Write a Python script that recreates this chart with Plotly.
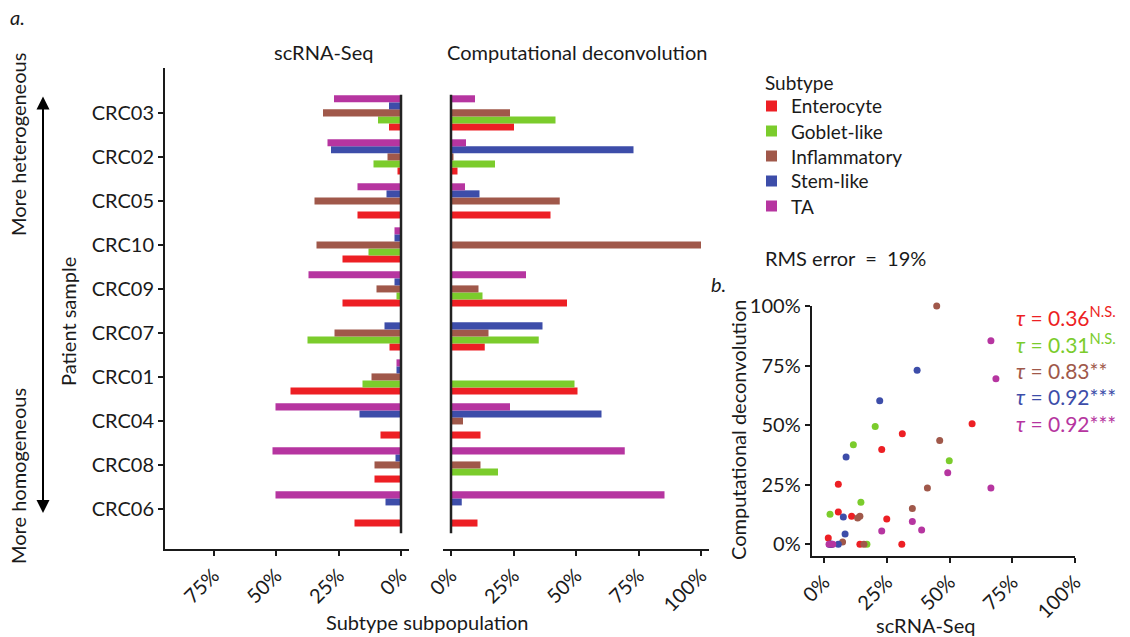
import plotly.graph_objects as go

W, H = 1130, 637

samples = ["CRC03", "CRC02", "CRC05", "CRC10", "CRC09",
           "CRC07", "CRC01", "CRC04", "CRC08", "CRC06"]
subtypes = ["Enterocyte", "Goblet-like", "Inflammatory", "Stem-like", "TA"]
colors = ["#ED1F24", "#7BCC2C", "#A0584A", "#3D4DA9", "#B635A0"]

# scRNA-Seq subpopulation (%), per sample
scrna_enterocyte = [4.8, 1.4, 17.4, 23.4, 23.4, 4.6, 44.2, 8.2, 10.6, 18.6]
scrna_goblet = [9.2, 11.0, 0, 13.0, 1.8, 37.4, 15.4, 0, 0, 0]
scrna_inflammatory = [31.2, 5.4, 34.6, 33.8, 9.8, 26.6, 11.8, 0, 10.6, 0]
scrna_stem = [4.8, 28.0, 5.8, 2.6, 2.6, 6.6, 1.8, 16.6, 2.2, 6.2]
scrna_ta = [26.8, 29.4, 17.4, 2.6, 37.0, 0, 1.8, 50.2, 51.4, 50.2]

# Computational deconvolution estimate (%), per sample
deconv_enterocyte = [25.2, 2.6, 39.8, 0, 46.4, 13.5, 50.6, 11.8, 0, 10.6]
deconv_goblet = [41.8, 17.6, 0, 0, 12.6, 35.1, 49.4, 0, 18.8, 0]
deconv_inflammatory = [23.6, 1.0, 43.5, 100, 11.0, 15.0, 0, 4.8, 11.8, 0]
deconv_stem = [0, 73.0, 11.4, 0, 0, 36.6, 0, 60.2, 0, 4.3]
deconv_ta = [9.6, 6.0, 5.6, 0, 30.0, 0, 0, 23.6, 69.5, 85.4]

# scRNA-Seq fractions as plotted in the correlation panel
corr_x_enterocyte = [5.7, 1.7, 23.0, 31.0, 31.2, 5.7, 59.0, 11.0, 14.3, 25.0]
corr_x_goblet = [11.7, 14.7, 0, 17.1, 2.4, 49.9, 20.4, 0, 0, 0]
corr_x_inflammatory = [41.2, 7.4, 46.1, 44.9, 13.4, 35.2, 15.9, 0, 14.3, 0]
corr_x_stem = [5.7, 37.1, 7.7, 3.0, 3.0, 8.8, 2.2, 22.2, 2.6, 8.4]
corr_x_ta = [35.2, 38.9, 23.0, 3.5, 49.3, 0, 2.0, 66.5, 68.5, 66.5]

tau_labels = ["0.36<sup>N.S.</sup>", "0.31<sup>N.S.</sup>", "0.83**", "0.92***", "0.92***"]
pct_ticks = [0, 25, 50, 75, 100]
pct_text = ["0%", "25%", "50%", "75%", "100%"]

scrna = [scrna_enterocyte, scrna_goblet, scrna_inflammatory, scrna_stem, scrna_ta]
deconv = [deconv_enterocyte, deconv_goblet, deconv_inflammatory, deconv_stem, deconv_ta]
corr_x = [corr_x_enterocyte, corr_x_goblet, corr_x_inflammatory, corr_x_stem, corr_x_ta]

FONT = "Lato"
INK = "#1a1a1a"
FS = 20


def px(p):
    return p / W


def py(p):
    return 1 - p / H


ypos = [len(samples) - 1 - i for i in range(len(samples))]

fig = go.Figure()

for k, name in enumerate(subtypes):
    fig.add_trace(go.Bar(
        x=scrna[k], y=ypos, orientation="h", name=name,
        marker=dict(color=colors[k], line=dict(width=0)),
        xaxis="x", yaxis="y", showlegend=False,
    ))
for k, name in enumerate(subtypes):
    fig.add_trace(go.Bar(
        x=deconv[k], y=ypos, orientation="h", name=name,
        marker=dict(color=colors[k], line=dict(width=0)),
        xaxis="x2", yaxis="y2", showlegend=False,
    ))
for k, name in enumerate(subtypes):
    xs = [a for a in corr_x[k] if a > 0]
    ys = [b for a, b in zip(corr_x[k], deconv[k]) if a > 0]
    fig.add_trace(go.Scatter(
        x=xs, y=ys, mode="markers", name=name,
        marker=dict(color=colors[k], size=7, line=dict(width=0)),
        xaxis="x3", yaxis="y3", showlegend=False, cliponaxis=False,
    ))

tickfont = dict(family=FONT, size=FS, color=INK)
axis_common = dict(showgrid=False, zeroline=False, ticks="outside", ticklen=5,
                   tickwidth=1.5, tickcolor=INK, linecolor=INK, linewidth=2,
                   tickfont=tickfont, automargin=False)

bar_ydomain = [py(549), py(68)]
bar_yrange = [-0.91, 10.02]

fig.update_layout(
    width=W, height=H,
    margin=dict(l=0, r=0, t=0, b=0, autoexpand=False),
    paper_bgcolor="white", plot_bgcolor="white",
    barmode="group", bargap=0.2, bargroupgap=0,
    font=dict(family=FONT, size=FS, color=INK),
    showlegend=False,
    xaxis=dict(domain=[px(165), px(409)], range=[94.4, -3.2], anchor="y",
               tickvals=pct_ticks[:4], ticktext=pct_text[:4], tickangle=-45,
               showline=True, **axis_common),
    yaxis=dict(domain=bar_ydomain, range=bar_yrange, anchor="x",
               tickvals=ypos, ticktext=samples, showline=True, **axis_common),
    xaxis2=dict(domain=[px(443), px(709)], range=[-3.2, 103.2], anchor="y2",
                tickvals=pct_ticks, ticktext=pct_text, tickangle=-45,
                showline=True, **axis_common),
    yaxis2=dict(domain=bar_ydomain, range=bar_yrange, anchor="x2",
                showline=False, showticklabels=False, ticks="",
                showgrid=False, zeroline=False),
    xaxis3=dict(domain=[px(811.7), px(1075)], range=[-4.9, 100], anchor="y3",
                tickvals=pct_ticks, ticktext=pct_text, tickangle=-45,
                showline=True, **axis_common),
    yaxis3=dict(domain=[py(555.7), py(306)], range=[-4.8, 100], anchor="x3",
                tickvals=pct_ticks, ticktext=pct_text,
                showline=True, **axis_common),
)

# zero reference lines of the two bar panels
for xr, yr in (("x", "y"), ("x2", "y2")):
    fig.add_shape(type="line", xref=xr, yref=yr, x0=0, x1=0, y0=-0.55, y1=9.41,
                  line=dict(color="#222222", width=2.5), layer="above")


def note(text, x, y, size=FS, xanchor="center", yanchor="middle", angle=0, color=INK):
    fig.add_annotation(text=text, x=px(x), y=py(y), xref="paper", yref="paper",
                       showarrow=False, xanchor=xanchor, yanchor=yanchor,
                       textangle=angle, font=dict(family=FONT, size=size, color=color))


# subtype key: swatches and names
note("Subtype", 763, 83, size=19, xanchor="left")
for k, name in enumerate(subtypes):
    yc = 106 + 25 * k
    fig.add_shape(type="rect", xref="paper", yref="paper",
                  x0=px(766), x1=px(777), y0=py(yc + 5.5), y1=py(yc - 5.5),
                  fillcolor=colors[k], line=dict(width=0))
    note(name, 789, yc, size=19, xanchor="left")

note("<i>a.</i>", 8, 17, size=20, xanchor="left")
note("<i>b.</i>", 709, 284, size=20, xanchor="left")
note("scRNA-Seq", 323, 52)
note("Computational deconvolution", 577, 52)
note("Subtype subpopulation", 427, 622)
note("Patient sample", 68, 322, angle=-90)
note("More heterogeneous", 18, 145, angle=-90)
note("More homogeneous", 18, 476, angle=-90)
note("RMS error  =  19%", 763, 258, xanchor="left")
note("scRNA-Seq", 925, 625)
note("Computational deconvolution", 738, 430, angle=-90)

tau_y = [316, 343, 370, 396, 423]
for k in range(len(subtypes)):
    note("<i>τ</i> = " + tau_labels[k], 1014, tau_y[k], size=21,
         xanchor="left", color=colors[k])

# double-headed arrow beside the sample axis
fig.add_annotation(x=px(43), y=py(513), xref="paper", yref="paper",
                   ax=0, ay=-(513 - 95), axref="pixel", ayref="pixel",
                   showarrow=True, arrowhead=2, startarrowhead=2,
                   arrowside="end+start", arrowsize=1.3, startarrowsize=1.3,
                   arrowwidth=2, arrowcolor="#000000", text="")

fig.write_html("out.html")
